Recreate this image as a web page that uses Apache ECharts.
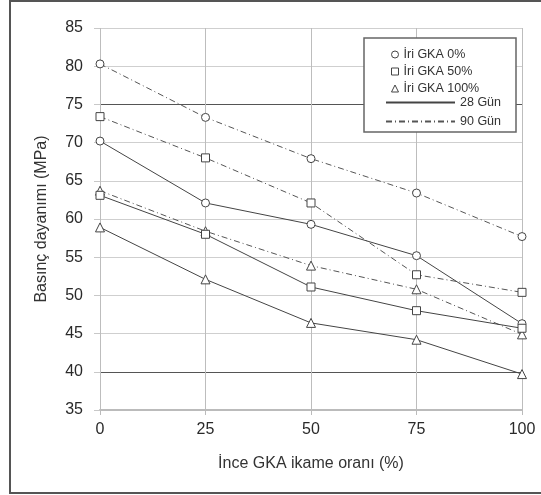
<!DOCTYPE html>
<html>
<head>
<meta charset="utf-8">
<script src="https://cdn.jsdelivr.net/npm/echarts@6/dist/echarts.min.js"></script>
<style>
  html, body { margin: 0; padding: 0; background: #fff; }
  #chart { width: 541px; height: 495px; }
</style>
</head>
<body>
<div id="chart"></div>
<script>
// İnce GKA ikame oranı (%)
const xValues = [0, 25, 50, 75, 100];

// Basınç dayanımı (MPa)
const gka0_28 = [70.2, 62.1, 59.3, 55.2, 46.3];
const gka0_90 = [80.3, 73.3, 67.9, 63.4, 57.7];
const gka50_28 = [63.1, 58.0, 51.1, 48.0, 45.7];
const gka50_90 = [73.4, 68.0, 62.1, 52.7, 50.4];
const gka100_28 = [58.9, 52.1, 46.4, 44.2, 39.7];
const gka100_90 = [63.7, 58.4, 53.9, 50.8, 44.9];

const yTicks = [35, 40, 45, 50, 55, 60, 65, 70, 75, 80, 85];
const darkLines = [40, 75];

const FONT = 'Liberation Sans';
const dashDot = [6, 3, 1, 3];

function pairs(vals) {
    return xValues.map((x, i) => [x, vals[i]]);
}

// seri oluşturucu
function makeSeries(name, vals, symbol, size, dashed) {
    return {
        name: name,
        type: 'line',
        data: pairs(vals),
        symbol: symbol,
        symbolSize: size,
        showAllSymbol: true,
        z: dashed ? 3 : 4,
        lineStyle: { color: dashed ? '#555' : '#444', width: 1, type: dashed ? dashDot : 'solid' },
        itemStyle: { color: '#fff', borderColor: '#444', borderWidth: 1 },
        emphasis: { disabled: true }
    };
}

const chart = echarts.init(document.getElementById('chart'));

const option = {
    animation: false,
    textStyle: { fontFamily: FONT },
    grid: { left: 100, right: 19, top: 28, bottom: 85 },
    xAxis: {
        type: 'value', min: 0, max: 100, interval: 25,
        name: 'İnce GKA ikame oranı (%)',
        nameLocation: 'middle', nameGap: 46,
        nameTextStyle: { fontSize: 16, color: '#333', fontFamily: FONT },
        axisLine: { show: true, lineStyle: { color: '#bbb', width: 2 } },
        axisTick: { show: true, length: 5, lineStyle: { color: '#bbb' } },
        axisLabel: { fontSize: 16, color: '#2a2a2a', margin: 12, fontFamily: FONT },
        splitLine: { show: true, lineStyle: { color: '#bdbdbd', width: 1 } }
    },
    yAxis: {
        type: 'value', min: 35, max: 85, interval: 5,
        name: 'Basınç dayanımı (MPa)',
        nameLocation: 'middle', nameGap: 50,
        nameTextStyle: { fontSize: 16, color: '#333', fontFamily: FONT },
        axisLine: { show: false },
        axisTick: { show: true, length: 6, lineStyle: { color: '#c8c8c8' } },
        axisLabel: { fontSize: 16, color: '#2a2a2a', margin: 17, fontFamily: FONT },
        splitLine: {
            show: true,
            lineStyle: {
                color: yTicks.map(v => darkLines.includes(v) ? '#555' : '#cfcfcf'),
                width: 1
            }
        }
    },
    legend: [
        {
            left: 386, top: 43, orient: 'vertical',
            itemWidth: 7, itemHeight: 7, itemGap: 4,
            selectedMode: false,
            textStyle: { fontSize: 12.5, color: '#333', fontFamily: FONT },
            itemStyle: { color: '#fff', borderColor: '#444', borderWidth: 1 },
            data: [
                { name: 'İri GKA 0%', icon: 'circle' },
                { name: 'İri GKA 50%', icon: 'rect' },
                { name: 'İri GKA 100%', icon: 'triangle' }
            ]
        },
        {
            left: 380, top: 91, orient: 'vertical',
            itemWidth: 69, itemHeight: 10, itemGap: 6,
            selectedMode: false,
            textStyle: { fontSize: 12.5, color: '#333', fontFamily: FONT },
            itemStyle: { color: 'rgba(0,0,0,0)', borderWidth: 0, opacity: 0 },
            data: ['28 Gün', '90 Gün']
        }
    ],
    graphic: [
        {
            type: 'rect', z: 3,
            shape: { x: 364, y: 38, width: 152, height: 94 },
            style: { fill: '#fff', stroke: '#666', lineWidth: 1.5 }
        },
        {
            type: 'rect', z: 10,
            shape: { x: 10, y: 1, width: 560, height: 492 },
            style: { fill: 'none', stroke: '#555', lineWidth: 2 }
        }
    ],
    series: [
        makeSeries('İri GKA 0%', gka0_28, 'circle', 8, false),
        makeSeries('İri GKA 0%', gka0_90, 'circle', 8, true),
        makeSeries('İri GKA 50%', gka50_28, 'rect', 8, false),
        makeSeries('İri GKA 50%', gka50_90, 'rect', 8, true),
        makeSeries('İri GKA 100%', gka100_28, 'triangle', 9, false),
        makeSeries('İri GKA 100%', gka100_90, 'triangle', 9, true),
        {
            name: '28 Gün', type: 'line', data: [], symbol: 'none',
            itemStyle: { color: 'rgba(0,0,0,0)', opacity: 0 },
            lineStyle: { color: '#444', width: 1, type: 'solid' }
        },
        {
            name: '90 Gün', type: 'line', data: [], symbol: 'none',
            itemStyle: { color: 'rgba(0,0,0,0)', opacity: 0 },
            lineStyle: { color: '#555', width: 1, type: dashDot }
        }
    ]
};

chart.setOption(option);
</script>
</body>
</html>
